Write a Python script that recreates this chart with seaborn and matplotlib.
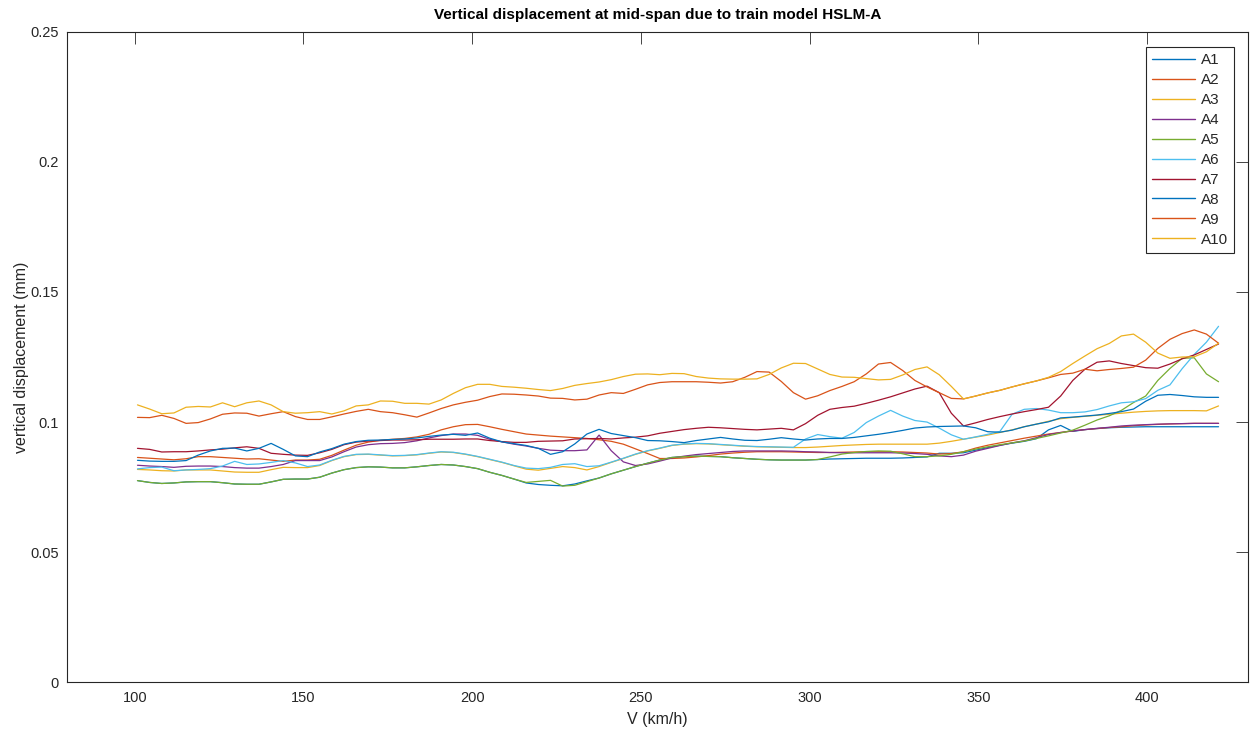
import numpy as np
import pandas as pd
import matplotlib
matplotlib.use("Agg")
import matplotlib.pyplot as plt
import seaborn as sns

# Train speed: 28 ... 117 m/s, expressed in km/h
speed_kmh = np.arange(28, 118) * 3.6

series_names = ["A1", "A2", "A3", "A4", "A5", "A6", "A7", "A8", "A9", "A10"]
line_colors = ["#0072BD", "#D95319", "#EDB120", "#7E2F8E", "#77AC30",
               "#4DBEEE", "#A2142F", "#0072BD", "#D95319", "#EDB120"]

# Mid-span vertical displacement (mm) for each HSLM-A train
A1 = [0.0775, 0.0768, 0.0764, 0.0766, 0.0770, 0.0771, 0.0771, 0.0767, 0.0762, 0.0761,
      0.0761, 0.0770, 0.0780, 0.0781, 0.0781, 0.0788, 0.0804, 0.0817, 0.0825, 0.0828,
      0.0827, 0.0824, 0.0824, 0.0828, 0.0833, 0.0837, 0.0835, 0.0829, 0.0821, 0.0807,
      0.0795, 0.0781, 0.0766, 0.0760, 0.0757, 0.0755, 0.0762, 0.0774, 0.0785, 0.0801,
      0.0815, 0.0829, 0.0842, 0.0854, 0.0864, 0.0867, 0.0869, 0.0868, 0.0867, 0.0863,
      0.0860, 0.0857, 0.0855, 0.0854, 0.0854, 0.0854, 0.0856, 0.0858, 0.0859, 0.0860,
      0.0861, 0.0861, 0.0861, 0.0862, 0.0864, 0.0866, 0.0880, 0.0880, 0.0882, 0.0892,
      0.0902, 0.0911, 0.0919, 0.0926, 0.0936, 0.0970, 0.0987, 0.0964, 0.0971, 0.0975,
      0.0978, 0.0980, 0.0981, 0.0982, 0.0982, 0.0982, 0.0982, 0.0982, 0.0982, 0.0982]
A2 = [0.0864, 0.0861, 0.0858, 0.0855, 0.0859, 0.0867, 0.0867, 0.0864, 0.0861, 0.0858,
      0.0859, 0.0854, 0.0849, 0.0854, 0.0854, 0.0857, 0.0872, 0.0892, 0.0911, 0.0923,
      0.0930, 0.0934, 0.0937, 0.0943, 0.0953, 0.0970, 0.0982, 0.0990, 0.0991, 0.0982,
      0.0972, 0.0963, 0.0954, 0.0950, 0.0946, 0.0943, 0.0940, 0.0937, 0.0932, 0.0926,
      0.0915, 0.0897, 0.0879, 0.0860, 0.0860, 0.0862, 0.0866, 0.0871, 0.0877, 0.0881,
      0.0884, 0.0886, 0.0886, 0.0886, 0.0885, 0.0884, 0.0883, 0.0883, 0.0884, 0.0885,
      0.0886, 0.0886, 0.0886, 0.0885, 0.0883, 0.0881, 0.0877, 0.0879, 0.0886, 0.0900,
      0.0911, 0.0920, 0.0929, 0.0938, 0.0946, 0.0954, 0.0960, 0.0966, 0.0971, 0.0975,
      0.0979, 0.0982, 0.0986, 0.0989, 0.0991, 0.0993, 0.0994, 0.0995, 0.0995, 0.0995]
A3 = [0.0818, 0.0816, 0.0813, 0.0812, 0.0816, 0.0816, 0.0816, 0.0812, 0.0808, 0.0807,
      0.0807, 0.0817, 0.0826, 0.0825, 0.0825, 0.0833, 0.0852, 0.0867, 0.0875, 0.0876,
      0.0873, 0.0870, 0.0871, 0.0874, 0.0880, 0.0885, 0.0883, 0.0876, 0.0867, 0.0856,
      0.0845, 0.0832, 0.0819, 0.0815, 0.0822, 0.0829, 0.0825, 0.0816, 0.0829, 0.0845,
      0.0860, 0.0876, 0.0889, 0.0899, 0.0910, 0.0915, 0.0917, 0.0916, 0.0913, 0.0910,
      0.0907, 0.0905, 0.0904, 0.0903, 0.0902, 0.0902, 0.0904, 0.0907, 0.0910, 0.0912,
      0.0914, 0.0915, 0.0915, 0.0915, 0.0915, 0.0915, 0.0919, 0.0926, 0.0934, 0.0942,
      0.0950, 0.0960, 0.0970, 0.0982, 0.0992, 0.1003, 0.1013, 0.1018, 0.1022, 0.1026,
      0.1030, 0.1034, 0.1038, 0.1041, 0.1043, 0.1044, 0.1044, 0.1044, 0.1043, 0.1062]
A4 = [0.0834, 0.0831, 0.0829, 0.0826, 0.0830, 0.0831, 0.0831, 0.0829, 0.0825, 0.0823,
      0.0823, 0.0829, 0.0837, 0.0852, 0.0852, 0.0852, 0.0866, 0.0886, 0.0904, 0.0913,
      0.0917, 0.0918, 0.0921, 0.0928, 0.0939, 0.0948, 0.0954, 0.0954, 0.0949, 0.0934,
      0.0924, 0.0915, 0.0908, 0.0899, 0.0892, 0.0890, 0.0890, 0.0893, 0.0950, 0.0890,
      0.0847, 0.0833, 0.0839, 0.0850, 0.0862, 0.0869, 0.0875, 0.0879, 0.0883, 0.0887,
      0.0889, 0.0889, 0.0889, 0.0889, 0.0888, 0.0886, 0.0885, 0.0883, 0.0882, 0.0882,
      0.0882, 0.0882, 0.0882, 0.0881, 0.0879, 0.0876, 0.0870, 0.0867, 0.0873, 0.0888,
      0.0899, 0.0910, 0.0920, 0.0928, 0.0940, 0.0952, 0.0960, 0.0966, 0.0971, 0.0976,
      0.0980, 0.0985, 0.0988, 0.0990, 0.0992, 0.0993, 0.0994, 0.0995, 0.0995, 0.0995]
A5 = [0.0775, 0.0768, 0.0764, 0.0766, 0.0770, 0.0771, 0.0771, 0.0767, 0.0762, 0.0761,
      0.0761, 0.0770, 0.0780, 0.0781, 0.0781, 0.0788, 0.0804, 0.0817, 0.0825, 0.0828,
      0.0827, 0.0824, 0.0824, 0.0828, 0.0833, 0.0837, 0.0835, 0.0829, 0.0821, 0.0807,
      0.0795, 0.0781, 0.0768, 0.0772, 0.0776, 0.0754, 0.0757, 0.0771, 0.0785, 0.0801,
      0.0815, 0.0829, 0.0842, 0.0854, 0.0864, 0.0867, 0.0869, 0.0868, 0.0867, 0.0863,
      0.0860, 0.0857, 0.0855, 0.0854, 0.0854, 0.0854, 0.0856, 0.0866, 0.0877, 0.0883,
      0.0887, 0.0889, 0.0888, 0.0878, 0.0867, 0.0867, 0.0870, 0.0876, 0.0886, 0.0896,
      0.0905, 0.0913, 0.0920, 0.0927, 0.0937, 0.0947, 0.0958, 0.0969, 0.0988, 0.1008,
      0.1024, 0.1045, 0.1075, 0.1100, 0.1160, 0.1206, 0.1245, 0.1247, 0.1185, 0.1155]
A6 = [0.0820, 0.0825, 0.0827, 0.0813, 0.0816, 0.0818, 0.0821, 0.0831, 0.0849, 0.0837,
      0.0839, 0.0845, 0.0852, 0.0843, 0.0829, 0.0835, 0.0853, 0.0868, 0.0876, 0.0877,
      0.0874, 0.0871, 0.0872, 0.0875, 0.0881, 0.0886, 0.0884, 0.0877, 0.0868, 0.0857,
      0.0846, 0.0833, 0.0823, 0.0821, 0.0826, 0.0837, 0.0840, 0.0829, 0.0832, 0.0846,
      0.0861, 0.0877, 0.0890, 0.0900, 0.0911, 0.0916, 0.0918, 0.0917, 0.0914, 0.0911,
      0.0908, 0.0906, 0.0905, 0.0904, 0.0903, 0.0935, 0.0952, 0.0944, 0.0938, 0.0960,
      0.0998, 0.1023, 0.1045, 0.1023, 0.1006, 0.1000, 0.0977, 0.0951, 0.0934, 0.0943,
      0.0953, 0.0964, 0.1030, 0.1049, 0.1052, 0.1046, 0.1036, 0.1036, 0.1039, 0.1048,
      0.1062, 0.1074, 0.1078, 0.1090, 0.1122, 0.1143, 0.1205, 0.1260, 0.1307, 0.1368]
A7 = [0.0899, 0.0895, 0.0885, 0.0886, 0.0886, 0.0889, 0.0893, 0.0896, 0.0901, 0.0905,
      0.0899, 0.0880, 0.0876, 0.0873, 0.0872, 0.0882, 0.0895, 0.0913, 0.0923, 0.0927,
      0.0929, 0.0931, 0.0931, 0.0932, 0.0934, 0.0934, 0.0934, 0.0935, 0.0935, 0.0929,
      0.0925, 0.0922, 0.0922, 0.0926, 0.0927, 0.0928, 0.0935, 0.0936, 0.0937, 0.0935,
      0.0939, 0.0942, 0.0947, 0.0957, 0.0964, 0.0971, 0.0976, 0.0980, 0.0978, 0.0975,
      0.0972, 0.0970, 0.0973, 0.0976, 0.0970, 0.0994, 0.1026, 0.1049, 0.1056, 0.1061,
      0.1072, 0.1084, 0.1097, 0.1112, 0.1127, 0.1138, 0.1113, 0.1034, 0.0985, 0.0997,
      0.1010, 0.1021, 0.1031, 0.1040, 0.1048, 0.1057, 0.1100, 0.1160, 0.1203, 0.1230,
      0.1235, 0.1225, 0.1217, 0.1209, 0.1207, 0.1223, 0.1243, 0.1258, 0.1279, 0.1300]
A8 = [0.0853, 0.0850, 0.0849, 0.0849, 0.0852, 0.0873, 0.0889, 0.0899, 0.0900, 0.0889,
      0.0899, 0.0918, 0.0895, 0.0870, 0.0867, 0.0885, 0.0898, 0.0915, 0.0925, 0.0930,
      0.0931, 0.0933, 0.0935, 0.0939, 0.0945, 0.0950, 0.0953, 0.0949, 0.0958, 0.0938,
      0.0924, 0.0917, 0.0910, 0.0899, 0.0876, 0.0886, 0.0916, 0.0954, 0.0972, 0.0956,
      0.0948, 0.0940, 0.0929, 0.0928, 0.0925, 0.0921, 0.0929, 0.0935, 0.0941, 0.0935,
      0.0930, 0.0929, 0.0934, 0.0940, 0.0935, 0.0931, 0.0935, 0.0937, 0.0937, 0.0941,
      0.0947, 0.0953, 0.0960, 0.0968, 0.0977, 0.0981, 0.0983, 0.0984, 0.0985, 0.0978,
      0.0963, 0.0961, 0.0969, 0.0982, 0.0992, 0.1001, 0.1016, 0.1019, 0.1023, 0.1027,
      0.1033, 0.1040, 0.1050, 0.1080, 0.1103, 0.1106, 0.1102, 0.1097, 0.1095, 0.1095]
A9 = [0.1018, 0.1017, 0.1026, 0.1014, 0.0995, 0.0998, 0.1012, 0.1030, 0.1035, 0.1034,
      0.1023, 0.1032, 0.1040, 0.1021, 0.1010, 0.1010, 0.1020, 0.1031, 0.1041, 0.1049,
      0.1040, 0.1036, 0.1028, 0.1019, 0.1035, 0.1052, 0.1066, 0.1076, 0.1084, 0.1098,
      0.1108, 0.1107, 0.1104, 0.1100, 0.1092, 0.1091, 0.1085, 0.1088, 0.1104, 0.1113,
      0.1110, 0.1126, 0.1143, 0.1152, 0.1155, 0.1155, 0.1155, 0.1153, 0.1150, 0.1155,
      0.1172, 0.1194, 0.1192, 0.1156, 0.1113, 0.1088, 0.1101, 0.1121, 0.1137, 0.1155,
      0.1185, 0.1223, 0.1229, 0.1198, 0.1160, 0.1135, 0.1113, 0.1091, 0.1089, 0.1100,
      0.1112, 0.1122, 0.1135, 0.1147, 0.1158, 0.1170, 0.1183, 0.1188, 0.1203, 0.1197,
      0.1202, 0.1206, 0.1211, 0.1238, 0.1283, 0.1318, 0.1340, 0.1354, 0.1338, 0.1303]
A10 = [0.1066, 0.1050, 0.1032, 0.1035, 0.1057, 0.1060, 0.1058, 0.1074, 0.1059, 0.1074,
       0.1081, 0.1066, 0.1040, 0.1034, 0.1036, 0.1040, 0.1031, 0.1043, 0.1062, 0.1066,
       0.1081, 0.1080, 0.1072, 0.1072, 0.1069, 0.1085, 0.1110, 0.1132, 0.1145, 0.1145,
       0.1137, 0.1134, 0.1130, 0.1125, 0.1121, 0.1129, 0.1141, 0.1148, 0.1154, 0.1163,
       0.1175, 0.1184, 0.1185, 0.1182, 0.1187, 0.1186, 0.1175, 0.1169, 0.1166, 0.1165,
       0.1165, 0.1166, 0.1183, 0.1208, 0.1226, 0.1225, 0.1204, 0.1183, 0.1173, 0.1172,
       0.1167, 0.1162, 0.1164, 0.1181, 0.1202, 0.1212, 0.1182, 0.1137, 0.1089, 0.1100,
       0.1112, 0.1122, 0.1135, 0.1147, 0.1158, 0.1172, 0.1194, 0.1225, 0.1254, 0.1282,
       0.1302, 0.1331, 0.1338, 0.1307, 0.1265, 0.1245, 0.1250, 0.1251, 0.1270, 0.1303]

all_series = [A1, A2, A3, A4, A5, A6, A7, A8, A9, A10]

x_ticks = [100, 150, 200, 250, 300, 350, 400]
y_ticks = [0, 0.05, 0.1, 0.15, 0.2, 0.25]
y_tick_labels = ["0", "0.05", "0.1", "0.15", "0.2", "0.25"]

df = pd.DataFrame({
    "V": np.tile(speed_kmh, len(series_names)),
    "disp": np.concatenate([np.asarray(s) for s in all_series]),
    "model": np.repeat(series_names, len(speed_kmh)),
})

sns.set_theme(style="white")
plt.rcParams["font.family"] = ["Liberation Sans", "DejaVu Sans"]
ink = "#262626"

fig = plt.figure(figsize=(12.51, 7.38), dpi=100)
ax = fig.add_axes([0.0538, 0.0755, 0.9440, 0.8815])

sns.lineplot(data=df, x="V", y="disp", hue="model", hue_order=series_names,
             palette=line_colors, estimator=None, sort=False,
             linewidth=0.9, ax=ax)

ax.set_xlim(80, 430)
ax.set_ylim(0, 0.25)
ax.set_xticks(x_ticks)
ax.set_yticks(y_ticks)
ax.set_yticklabels(y_tick_labels)
ax.tick_params(direction="in", length=8.5, width=0.6, top=True, right=True,
               labelsize=10.5, colors=ink, pad=6)
for sp in ax.spines.values():
    sp.set_visible(True)
    sp.set_color(ink)
    sp.set_linewidth(0.8)

ax.set_title("Vertical displacement at mid-span due to train model HSLM-A",
             fontsize=11, fontweight="bold", color="black", pad=9)
ax.set_xlabel("V (km/h)", fontsize=11.5, color=ink, labelpad=5)
ax.set_ylabel("vertical displacement (mm)", fontsize=11.5, color=ink, labelpad=1)

handles, labels = ax.get_legend_handles_labels()
leg = ax.legend(handles, labels, loc="upper right", bbox_to_anchor=(0.9879, 0.9765),
                borderaxespad=0, frameon=True, fancybox=False, framealpha=1,
                edgecolor=ink, fontsize=11, handlelength=2.8, handletextpad=0.4,
                labelspacing=0.39, borderpad=0.4)
leg.get_frame().set_linewidth(0.8)
for line in leg.get_lines():
    line.set_linewidth(1.0)

fig.savefig("out.png", dpi=100)
